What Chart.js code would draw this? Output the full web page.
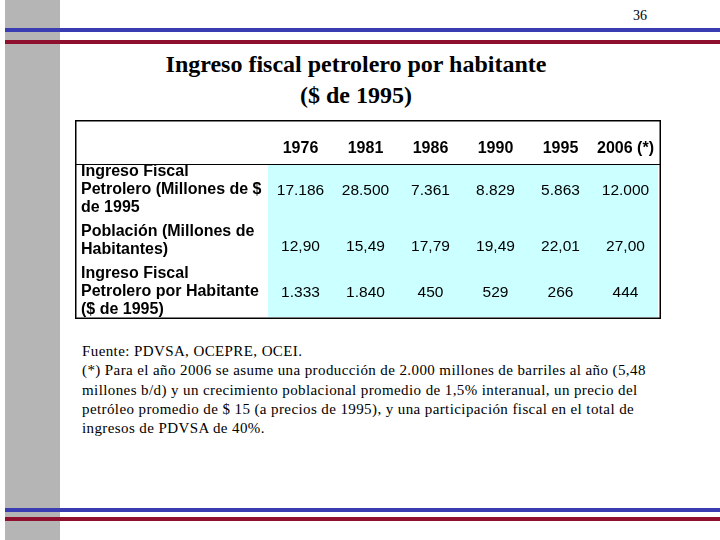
<!DOCTYPE html>
<html lang="es">
<head>
<meta charset="UTF-8">
<title>Ingreso fiscal petrolero por habitante</title>
<script src="https://cdn.jsdelivr.net/npm/chart.js"></script>
<style>
  body { margin: 0; width: 720px; height: 540px; background: #fff; position: relative; overflow: hidden; }
  .strip { position: absolute; left: 5px; top: 0; width: 55px; height: 540px; background: #b5b5b5; }
  .line { position: absolute; left: 5px; right: 0; height: 4px; }
  .blue { background: #3a3cb2; }
  .red { background: #8e0f2e; }
  .pagenum { position: absolute; left: 633px; top: 8px; font: 14px "Liberation Serif", serif; }
  .title { position: absolute; left: 60px; width: 592px; top: 49px; text-align: center;
           font: bold 24px/31px "Liberation Serif", serif; color: #000; }
  .table-box { position: absolute; left: 75px; top: 120px; width: 586px; height: 199px; }
  .note { position: absolute; left: 82px; top: 342px; width: 620px;
          font: 15px/19.3px "Liberation Serif", serif; letter-spacing: 0.4px; color: #000; white-space: nowrap; }
</style>
</head>
<body>
<div class="strip"></div>
<div class="line blue" style="top:28px"></div>
<div class="line red" style="top:40px"></div>
<div class="line blue" style="top:508px"></div>
<div class="line red" style="top:517px"></div>
<div class="pagenum">36</div>
<div class="title">Ingreso fiscal petrolero por habitante<br>($ de 1995)</div>

<div class="table-box"><canvas id="tabla"></canvas></div>

<div class="note">Fuente: PDVSA, OCEPRE, OCEI.<br>
(*) Para el año 2006 se asume una producción de 2.000 millones de barriles al año (5,48<br>
millones b/d) y un crecimiento poblacional promedio de 1,5% interanual, un precio del<br>
petróleo promedio de $ 15 (a precios de 1995), y una participación fiscal en el total de<br>
ingresos de PDVSA de 40%.</div>

<script>
// columns and rows
const years = ['1976', '1981', '1986', '1990', '1995', '2006 (*)'];
const rowKeys = ['ingreso', 'poblacion', 'porHabitante'];
const rowLabels = [
  ['Ingreso Fiscal', 'Petrolero (Millones de $', 'de 1995'],
  ['Población (Millones de', 'Habitantes)'],
  ['Ingreso Fiscal', 'Petrolero por Habitante', '($ de 1995)']
];

const ingresoFiscal = [17186, 28500, 7361, 8829, 5863, 12000];
const poblacion = [12.90, 15.49, 17.79, 19.49, 22.01, 27.00];
const ingresoPorHabitante = [1333, 1840, 450, 529, 266, 444];
const decimals = [0, 2, 0];

// spanish style number: 17.186 / 12,90
function fmt(v, dec) {
  let parts = v.toFixed(dec).split('.');
  let ent = parts[0].replace(/\B(?=(\d{3})+(?!\d))/g, '.');
  return dec ? ent + ',' + parts[1] : ent;
}

const series = [ingresoFiscal, poblacion, ingresoPorHabitante];

const datasets = series.map((vals, r) => ({
  label: rowKeys[r],
  data: vals.map((v, i) => ({ x: years[i], y: rowKeys[r], v: v })),
  showLine: false,
  pointRadius: 0,
  decimals: decimals[r]
}));

const FONT = '"Liberation Sans", Arial, sans-serif';

// cyan cells, values, header line and outer border
const tablePlugin = {
  id: 'tablePlugin',
  beforeDraw(chart) {
    const { ctx, chartArea: a } = chart;
    ctx.save();
    ctx.fillStyle = '#ccffff';
    ctx.fillRect(a.left, a.top, a.right - a.left, a.bottom - a.top);
    ctx.restore();
  },
  afterDatasetsDraw(chart) {
    const ctx = chart.ctx;
    ctx.save();
    ctx.fillStyle = '#000';
    ctx.font = '15.5px ' + FONT;
    ctx.textAlign = 'center';
    ctx.textBaseline = 'middle';
    chart.data.datasets.forEach((ds, d) => {
      const meta = chart.getDatasetMeta(d);
      meta.data.forEach((pt, i) => {
        let y = pt.y + 1;
        if (d === 1) y += 5; // second row sits on its lower label line
        ctx.fillText(fmt(ds.data[i].v, ds.decimals), pt.x, y);
      });
    });
    ctx.restore();
  },
  afterDraw(chart) {
    const { ctx, chartArea: a, width, height } = chart;
    ctx.save();
    ctx.strokeStyle = '#000';
    ctx.lineWidth = 1;
    ctx.beginPath();
    ctx.moveTo(0, a.top + 0.5);
    ctx.lineTo(width, a.top + 0.5);
    ctx.stroke();
    ctx.lineWidth = 1.5;
    ctx.strokeRect(0.75, 0.75, width - 1.5, height - 1.5);
    ctx.restore();
  }
};

new Chart(document.getElementById('tabla'), {
  type: 'line',
  data: { datasets: datasets },
  plugins: [tablePlugin],
  options: {
    responsive: true,
    maintainAspectRatio: false,
    animation: false,
    layout: { padding: { left: 6, right: 3, top: 0, bottom: 2 } },
    plugins: { legend: { display: false }, tooltip: { enabled: false } },
    scales: {
      x: {
        type: 'category',
        labels: years,
        position: 'top',
        offset: true,
        border: { display: false },
        grid: { display: false, drawTicks: false },
        ticks: { color: '#000', padding: 6, maxRotation: 0, autoSkip: false,
                 font: { family: FONT, size: 16, weight: 'bold' } },
        afterFit(scale) { scale.height = 44; scale.paddingLeft = 0; scale.paddingRight = 0; }
      },
      y: {
        type: 'category',
        labels: rowKeys,
        offset: true,
        border: { display: false },
        grid: { display: false, drawTicks: false },
        ticks: {
          color: '#000',
          crossAlign: 'far',
          autoSkip: false,
          callback: (val, i) => rowLabels[i],
          font: { family: FONT, size: 16, weight: 'bold', lineHeight: 1.13 }
        },
        afterFit(scale) { scale.width = 187; scale.paddingTop = 0; scale.paddingBottom = 0; }
      }
    }
  }
});
</script>
</body>
</html>
